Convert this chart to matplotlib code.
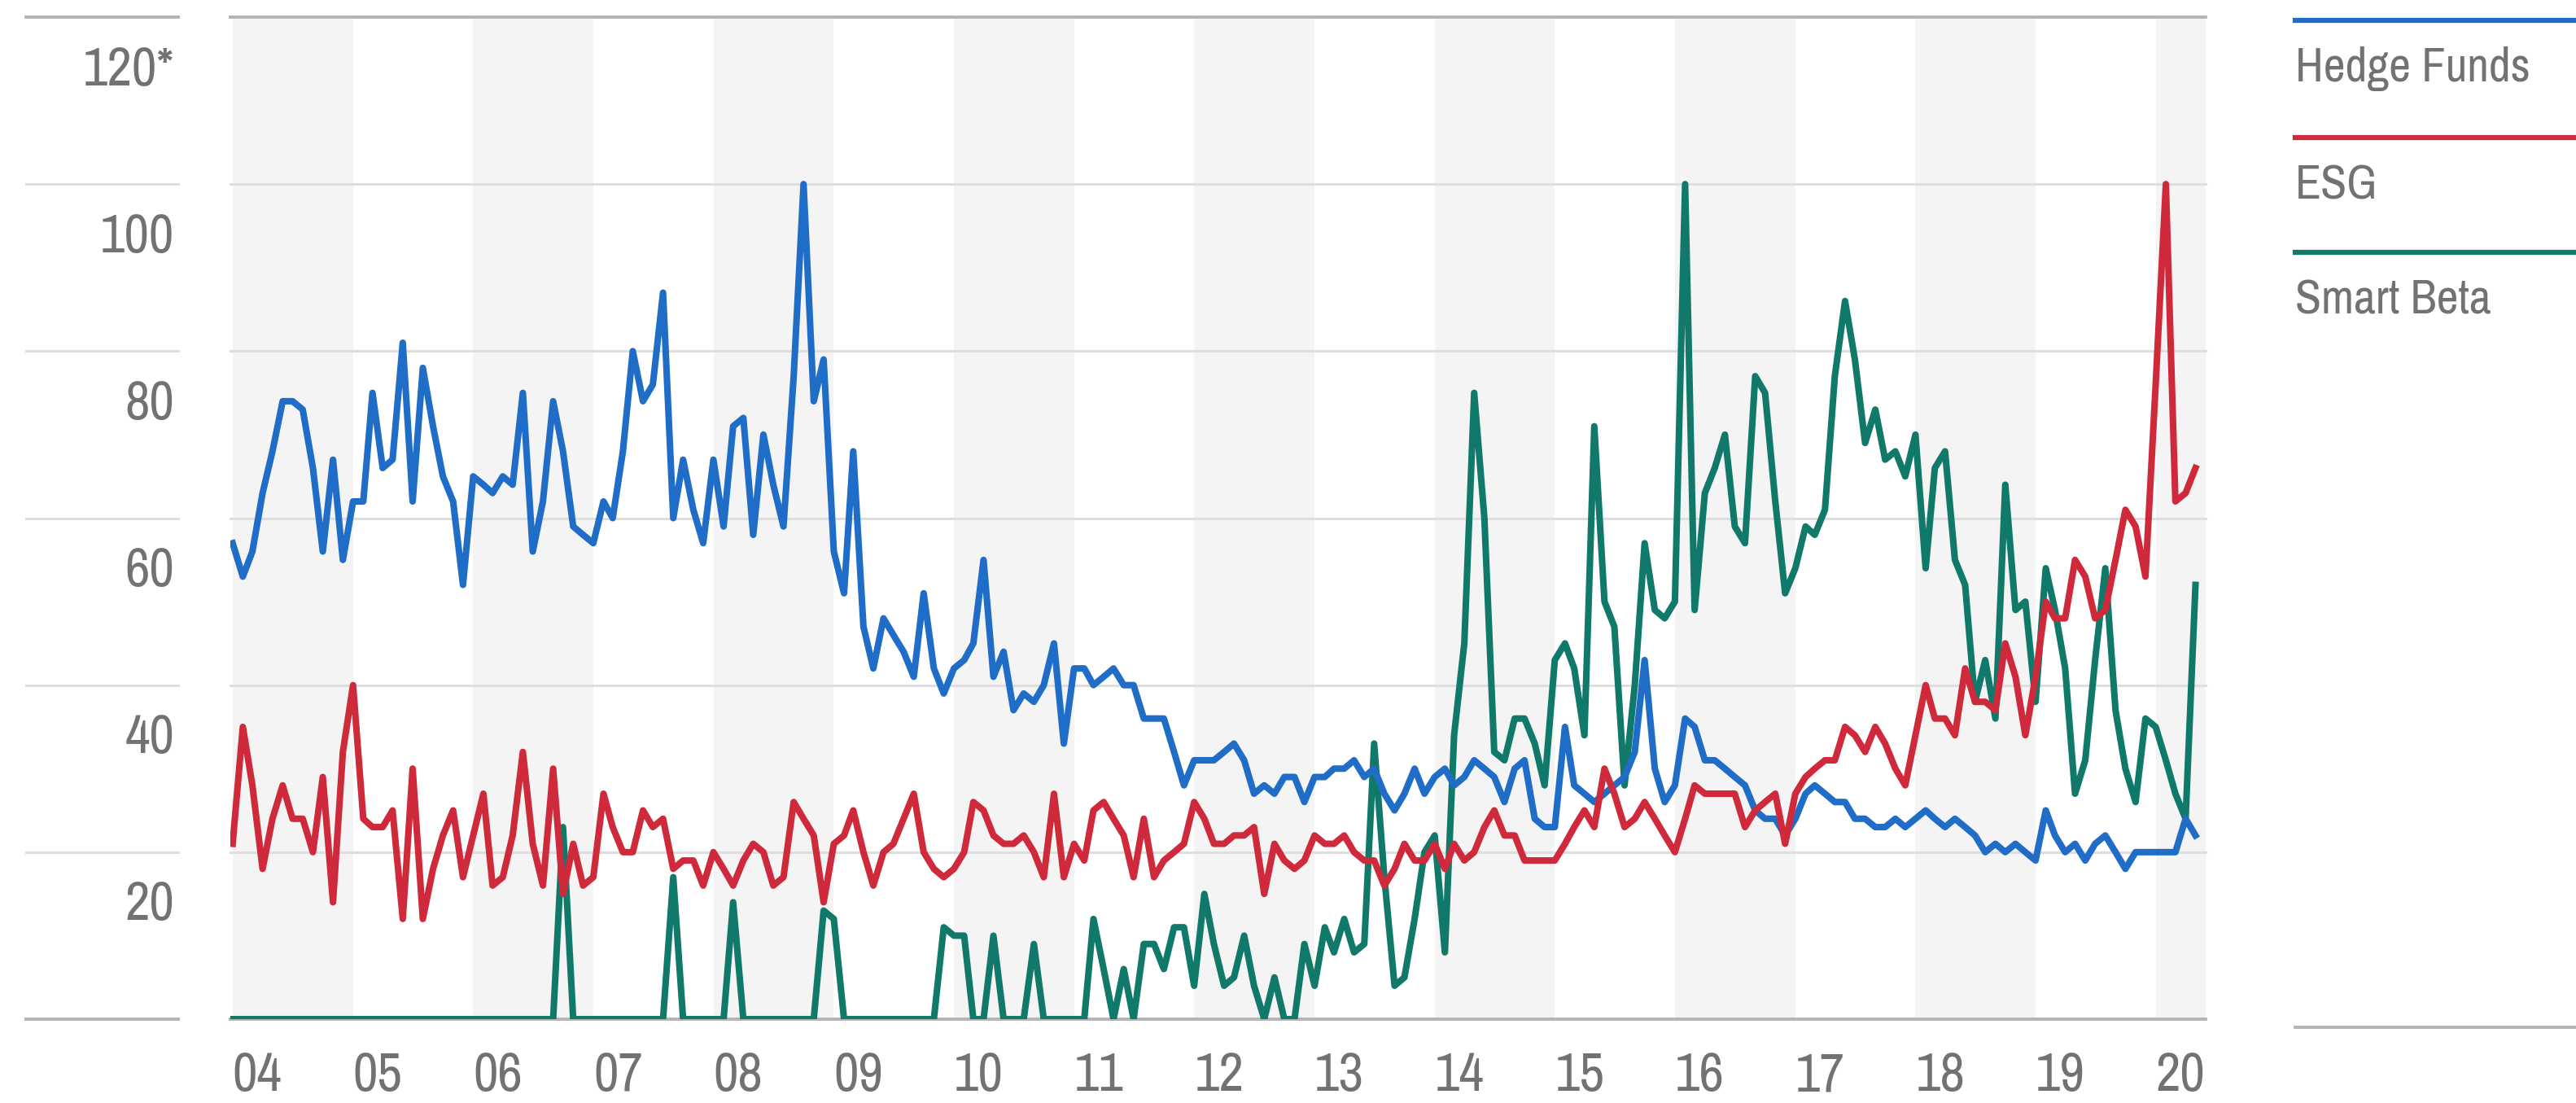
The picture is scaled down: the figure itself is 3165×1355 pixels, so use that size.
import matplotlib
matplotlib.use("Agg")
import matplotlib.pyplot as plt
import matplotlib.transforms as mtransforms
from matplotlib import font_manager
from matplotlib.lines import Line2D
import pandas as pd

# Google Trends style monthly interest, Jan 2004 - May 2020
hedge_funds = [
    57, 53, 56, 63, 68, 74, 74, 73, 66, 56,
    67, 55, 62, 62, 75, 66, 67, 81, 62, 78,
    71, 65, 62, 52, 65, 64, 63, 65, 64, 75,
    56, 62, 74, 68, 59, 58, 57, 62, 60, 68,
    80, 74, 76, 87, 60, 67, 61, 57, 67, 59,
    71, 72, 58, 70, 64, 59, 77, 100, 74, 79,
    56, 51, 68, 47, 42, 48, 46, 44, 41, 51,
    42, 39, 42, 43, 45, 55, 41, 44, 37, 39,
    38, 40, 45, 33, 42, 42, 40, 41, 42, 40,
    40, 36, 36, 36, 32, 28, 31, 31, 31, 32,
    33, 31, 27, 28, 27, 29, 29, 26, 29, 29,
    30, 30, 31, 29, 30, 27, 25, 27, 30, 27,
    29, 30, 28, 29, 31, 30, 29, 26, 30, 31,
    24, 23, 23, 35, 28, 27, 26, 27, 28, 29,
    32, 43, 30, 26, 28, 36, 35, 31, 31, 30,
    29, 28, 25, 24, 24, 22, 24, 27, 28, 27,
    26, 26, 24, 24, 23, 23, 24, 23, 24, 25,
    24, 23, 24, 23, 22, 20, 21, 20, 21, 20,
    19, 25, 22, 20, 21, 19, 21, 22, 20, 18,
    20, 20, 20, 20, 20, 24, 22,
]
esg = [
    21, 35, 28, 18, 24, 28, 24, 24, 20, 29,
    14, 32, 40, 24, 23, 23, 25, 12, 30, 12,
    18, 22, 25, 17, 22, 27, 16, 17, 22, 32,
    21, 16, 30, 15, 21, 16, 17, 27, 23, 20,
    20, 25, 23, 24, 18, 19, 19, 16, 20, 18,
    16, 19, 21, 20, 16, 17, 26, 24, 22, 14,
    21, 22, 25, 20, 16, 20, 21, 24, 27, 20,
    18, 17, 18, 20, 26, 25, 22, 21, 21, 22,
    20, 17, 27, 17, 21, 19, 25, 26, 24, 22,
    17, 24, 17, 19, 20, 21, 26, 24, 21, 21,
    22, 22, 23, 15, 21, 19, 18, 19, 22, 21,
    21, 22, 20, 19, 19, 16, 18, 21, 19, 19,
    21, 18, 21, 19, 20, 23, 25, 22, 22, 19,
    19, 19, 19, 21, 23, 25, 23, 30, 27, 23,
    24, 26, 24, 22, 20, 24, 28, 27, 27, 27,
    27, 23, 25, 26, 27, 21, 27, 29, 30, 31,
    31, 35, 34, 32, 35, 33, 30, 28, 34, 40,
    36, 36, 34, 42, 38, 38, 37, 45, 41, 34,
    41, 50, 48, 48, 55, 53, 48, 49, 55, 61,
    59, 53, 76, 100, 62, 63, 66,
]
smart_beta = [
    0, 0, 0, 0, 0, 0, 0, 0, 0, 0,
    0, 0, 0, 0, 0, 0, 0, 0, 0, 0,
    0, 0, 0, 0, 0, 0, 0, 0, 0, 0,
    0, 0, 0, 23, 0, 0, 0, 0, 0, 0,
    0, 0, 0, 0, 17, 0, 0, 0, 0, 0,
    14, 0, 0, 0, 0, 0, 0, 0, 0, 13,
    12, 0, 0, 0, 0, 0, 0, 0, 0, 0,
    0, 11, 10, 10, 0, 0, 10, 0, 0, 0,
    9, 0, 0, 0, 0, 0, 12, 6, 0, 6,
    0, 9, 9, 6, 11, 11, 4, 15, 9, 4,
    5, 10, 4, 0, 5, 0, 0, 9, 4, 11,
    8, 12, 8, 9, 33, 17, 4, 5, 12, 20,
    22, 8, 34, 45, 75, 60, 32, 31, 36, 36,
    33, 28, 43, 45, 42, 34, 71, 50, 47, 28,
    40, 57, 49, 48, 50, 100, 49, 63, 66, 70,
    59, 57, 77, 75, 62, 51, 54, 59, 58, 61,
    77, 86, 79, 69, 73, 67, 68, 65, 70, 54,
    66, 68, 55, 52, 38, 43, 36, 64, 49, 50,
    38, 54, 49, 42, 27, 31, 43, 54, 37, 30,
    26, 36, 35, 31, 27, 24, 52,
]
series_names = ["Hedge Funds", "ESG", "Smart Beta"]
series_colors = ["#1f6dc6", "#cf2a3b", "#10796a"]
y_levels = [0, 20, 40, 60, 80, 100, 120]
y_labels = ["", "20", "40", "60", "80", "100", "120*"]
years = list(range(2004, 2021))

dates = pd.date_range("2004-01-01", periods=len(hedge_funds), freq="MS")

W, H = 3165, 1355
fig = plt.figure(figsize=(W / 100, H / 100), dpi=100)

# a narrow face if there is one, else plain DejaVu
fam, stretch, fs = "DejaVu Sans", "normal", 40
for f in font_manager.fontManager.ttflist:
    if "Narrow" in f.name or "Condensed" in f.name:
        fam, stretch, fs = f.name, "normal", 48
        break
    if f.name == "DejaVu Sans" and f.stretch == "condensed":
        fam, stretch, fs = "DejaVu Sans", "condensed", 44
text_kw = dict(color="#727272", family=fam, fontstretch=stretch)
grid_light = "#dedede"
grid_dark = "#b4b4b4"

# plot area in pixels
left, right, top, bottom = 283, 2710, 21, 1252
ax = fig.add_axes([left / W, 1 - bottom / H, (right - left) / W, (bottom - top) / H])
ax.set_ylim(0, 120)
x0 = pd.Timestamp("2003-12-25")
x1 = pd.Timestamp("2020-06-01")
ax.set_xlim(x0, x1)
ax.axis("off")

# alternating year bands
for yr in years:
    if yr % 2 == 0:
        a = max(pd.Timestamp(f"{yr}-01-01"), x0)
        b = min(pd.Timestamp(f"{yr + 1}-01-01"), x1)
        ax.axvspan(a, b, color="#f4f4f4", lw=0, zorder=0)

for v in y_levels:
    edge = v in (0, 120)
    ax.axhline(v, color=grid_dark if edge else grid_light,
               lw=2.8 if edge else 2.2, zorder=1, clip_on=False)

lw = 5.8
ax.plot(dates, smart_beta, color=series_colors[2], lw=lw, zorder=3)
ax.plot(dates, hedge_funds, color=series_colors[0], lw=lw, zorder=4)
ax.plot(dates, esg, color=series_colors[1], lw=lw, zorder=5)

# y labels column on the left
trans_y = mtransforms.blended_transform_factory(fig.transFigure, ax.transData)
for v, lab in zip(y_levels, y_labels):
    edge = v in (0, 120)
    fig.add_artist(Line2D([32 / W, 219 / W], [v, v], transform=trans_y,
                          color=grid_dark if edge else grid_light,
                          lw=2.8 if edge else 2.2, clip_on=False))
    if lab:
        fig.text(214 / W, v - 6.4, lab, transform=trans_y, ha="right", va="center",
                 fontsize=fs, **text_kw)

# year labels
trans_x = mtransforms.blended_transform_factory(ax.transData, ax.transAxes)
for yr in years:
    ax.text(pd.Timestamp(f"{yr}-01-01"), -0.057, f"{yr % 100:02d}", transform=trans_x,
            ha="left", va="center", fontsize=fs, clip_on=False, **text_kw)

# legend column
leg_x0 = 2820 / W
line_y = [25, 169, 310]
for name, color, ly in zip(series_names, series_colors, line_y):
    fig.add_artist(Line2D([leg_x0, 1.0], [1 - ly / H, 1 - ly / H], color=color, lw=4.5))
    fig.text(leg_x0, 1 - (ly + 59) / H, name, ha="left", va="center",
             fontsize=fs * 0.88, **text_kw)
fig.add_artist(Line2D([leg_x0, 1.0], [1 - 1262 / H, 1 - 1262 / H], color=grid_dark, lw=2.8))

fig.savefig("out.png", dpi=100, facecolor="white")
